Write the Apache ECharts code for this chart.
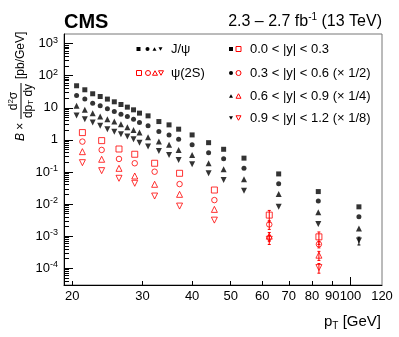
<!DOCTYPE html>
<html>
<head>
<meta charset="UTF-8">
<script src="https://cdn.jsdelivr.net/npm/echarts@6.0.0/dist/echarts.min.js"></script>
<style>html,body{margin:0;padding:0;background:#fff}#chart{width:399px;height:337px}</style>
</head>
<body>
<div id="chart"></div>
<script>
// J/psi: pT bin positions [GeV] and plotted cross sections (already scaled) per rapidity bin
var jpsiPt = [20.5, 21.5, 22.5, 23.5, 24.5, 25.5, 26.5, 27.5, 28.5, 29.5, 31, 33, 35, 37, 40, 44, 48, 54, 66, 83, 105];
var jpsiY0 = [48.7, 36.5, 27.4, 22.5, 18.7, 15.4, 12.7, 10.5, 8.66, 6.83, 5.62, 3.73, 2.94, 2.16, 1.43, 0.82, 0.51, 0.27, 0.087, 0.0245, 0.0082];
var jpsiY1 = [24.2, 18.7, 14.0, 11.5, 9.31, 7.66, 6.35, 5.35, 4.44, 3.48, 2.74, 1.82, 1.43, 1.05, 0.70, 0.40, 0.26, 0.13, 0.043, 0.0124, 0.0040];
var jpsiY2 = [11.5, 8.66, 6.83, 5.35, 4.44, 3.73, 3.10, 2.49, 2.05, 1.69, 1.21, 0.885, 0.70, 0.487, 0.34, 0.187, 0.121, 0.059, 0.0205, 0.0056, 0.00174];
var jpsiY3 = [5.74, 4.44, 3.48, 2.74, 2.16, 1.78, 1.51, 1.27, 1.05, 0.82, 0.62, 0.45, 0.34, 0.237, 0.174, 0.091, 0.056, 0.026, 0.0082, 0.00237, 0.00073];
var jpsiErr3 = [0, 0, 0, 0, 0, 0, 0, 0, 0, 0, 0, 0, 0, 0, 0, 0, 0, 0, 0, 0, 0.0002];

// psi(2S)
var psiPt = [21.2, 23.7, 26.2, 28.7, 32.2, 37.2, 45.5, 62.5, 83.3];
var psiY0 = [1.69, 0.95, 0.52, 0.357, 0.187, 0.091, 0.0274, 0.00453, 0.00095];
var psiY1 = [0.885, 0.487, 0.255, 0.187, 0.102, 0.042, 0.0133, 0.00232, 0.00056];
var psiY2 = [0.43, 0.249, 0.13, 0.075, 0.0413, 0.0201, 0.00683, 0.0010, 0.000255];
var psiY3 = [0.195, 0.11, 0.0636, 0.0444, 0.0178, 0.00866, 0.00316, 0.0008, 0.000105];
var psiErr0 = [0, 0, 0, 0, 0, 0, 0, 0.0018, 0.0004];
var psiErr1 = [0, 0, 0, 0, 0, 0, 0, 0.0007, 0.00013];
var psiErr2 = [0, 0, 0, 0, 0, 0, 0, 0.0003, 0.00008];
var psiErr3 = [0, 0, 0, 0, 0, 0, 0, 0.00025, 0.000035];

var xTickVals = [20, 30, 40, 50, 60, 70, 80, 90, 100, 120];
var yDecades = [-4, -3, -2, -1, 0, 1, 2, 3];
var rapLabels = ['0.0 < |y| < 0.3', '0.3 < |y| < 0.6 (\u00d7 1/2)', '0.6 < |y| < 0.9 (\u00d7 1/4)', '0.9 < |y| < 1.2 (\u00d7 1/8)'];
var symbols = ['rect', 'circle', 'triangle', 'downtri'];

var FONT = 'Liberation Sans, Arial, sans-serif';
var RED = '#ff0000';
var lg = Math.log10;

function pts(xs, ys) {
    return xs.map(function (x, i) { return [lg(x), lg(ys[i])]; });
}

function markSeries(xs, ys, k, open) {
    return {
        type: 'scatter',
        data: pts(xs, ys),
        symbol: k === 3 ? 'triangle' : symbols[k],
        symbolRotate: k === 3 ? 180 : 0,
        symbolSize: open ? (k === 1 ? 5.5 : 6) : (k >= 2 ? 6 : 5),
        z: 3,
        silent: true,
        itemStyle: open ? {color: 'rgba(0,0,0,0)', borderColor: RED, borderWidth: 1} : {color: '#000'}
    };
}

function errSeries(xs, ys, es, color) {
    var d = [];
    xs.forEach(function (x, i) {
        if (es[i]) d.push([lg(x), lg(ys[i] + es[i]), lg(ys[i] - es[i])]);
    });
    return {
        type: 'custom', data: d, z: 2, silent: true,
        encode: {x: 0, y: [1, 2]},
        renderItem: function (p, api) {
            var t = api.coord([api.value(0), api.value(1)]);
            var b = api.coord([api.value(0), api.value(2)]);
            var st = {stroke: color, lineWidth: 1};
            return {type: 'group', children: [
                {type: 'line', shape: {x1: t[0], y1: t[1], x2: b[0], y2: b[1]}, style: st},
                {type: 'line', shape: {x1: t[0] - 1.5, y1: t[1], x2: t[0] + 1.5, y2: t[1]}, style: st},
                {type: 'line', shape: {x1: b[0] - 1.5, y1: b[1], x2: b[0] + 1.5, y2: b[1]}, style: st}
            ]};
        }
    };
}

// legend marker shapes
function mark(k, x, y, s, filled, color) {
    var style = filled ? {fill: color} : {fill: 'none', stroke: color, lineWidth: 1};
    if (k === 0) return {type: 'rect', shape: {x: x - s / 2, y: y - s / 2, width: s, height: s}, style: style};
    if (k === 1) return {type: 'circle', shape: {cx: x, cy: y, r: s / 2}, style: style};
    var h = s * 0.9, dir = k === 2 ? -1 : 1;
    return {type: 'polygon', shape: {points: [[x, y + dir * h / 2], [x - s / 2, y - dir * h / 2], [x + s / 2, y - dir * h / 2]]}, style: style};
}

var minorY = [];
for (var n = -5; n <= 3; n++) {
    for (var m = 2; m <= 9; m++) minorY.push(n + lg(m));
}

var xMin = lg(19.06), xMax = lg(120), yMin = lg(3e-5), yMax = lg(2000);

var jY = [jpsiY0, jpsiY1, jpsiY2, jpsiY3];
var pY = [psiY0, psiY1, psiY2, psiY3];
var series = [];
jY.forEach(function (ys, k) { series.push(markSeries(jpsiPt, ys, k, false)); });
pY.forEach(function (ys, k) { series.push(markSeries(psiPt, ys, k, true)); });
series.push(errSeries(jpsiPt, jpsiY3, jpsiErr3, '#000'));
series.push(errSeries(psiPt, psiY0, psiErr0, RED));
series.push(errSeries(psiPt, psiY1, psiErr1, RED));
series.push(errSeries(psiPt, psiY2, psiErr2, RED));
series.push(errSeries(psiPt, psiY3, psiErr3, RED));

// legend graphics
var legendEls = [];
var rowY = [49, 73, 96, 118];
var lx = [138.5, 147.5, 154.5, 160.5];
for (var k = 0; k < 4; k++) {
    legendEls.push(mark(k, lx[k], rowY[0], 4, true, '#000'));
    legendEls.push(mark(k, lx[k] + 0.5, rowY[1], 5, false, RED));
    legendEls.push(mark(k, 231, rowY[k], 4, true, '#000'));
    legendEls.push(mark(k, 238.5, rowY[k], 5, false, RED));
    legendEls.push({type: 'text', x: 250, y: rowY[k], style: {text: rapLabels[k], font: '13px ' + FONT, fill: '#000', verticalAlign: 'middle'}});
}
legendEls.push({type: 'text', x: 171, y: rowY[0], style: {text: 'J/\u03c8', font: '13px ' + FONT, fill: '#000', verticalAlign: 'middle'}});
legendEls.push({type: 'text', x: 171, y: rowY[1], style: {text: '\u03c8(2S)', font: '13px ' + FONT, fill: '#000', verticalAlign: 'middle'}});

var chart = echarts.init(document.getElementById('chart'), null, {renderer: 'canvas'});
chart.setOption({
    animation: false,
    backgroundColor: '#fff',
    grid: {left: 64, right: 17, top: 34, bottom: 52, show: true, borderColor: '#777', borderWidth: 1, backgroundColor: 'transparent', outerBoundsMode: 'none'},
    xAxis: [{
        type: 'value', min: xMin, max: xMax,
        axisLine: {onZero: false, lineStyle: {color: '#000', width: 1}},
        axisTick: {inside: true, length: 4, customValues: xTickVals.slice(0, 8).map(lg), lineStyle: {color: '#000'}},
        axisLabel: {
            customValues: xTickVals.map(lg), margin: 5, color: '#000', fontSize: 13, fontFamily: FONT,
            formatter: function (v) { return String(Math.round(Math.pow(10, v))); }
        },
        splitLine: {show: false}
    }, {
        type: 'value', min: xMin, max: xMax, position: 'bottom',
        axisLine: {show: false, onZero: false},
        axisTick: {inside: true, length: 8, customValues: [2], lineStyle: {color: '#000'}},
        axisLabel: {show: false},
        splitLine: {show: false}
    }],
    yAxis: [{
        type: 'value', min: yMin, max: yMax,
        axisLine: {show: true, onZero: false, lineStyle: {color: '#000', width: 1}},
        axisTick: {inside: true, length: 9, customValues: yDecades, lineStyle: {color: '#000'}},
        axisLabel: {
            customValues: yDecades, margin: 6, color: '#000', fontFamily: FONT,
            formatter: function (v) {
                if (v === 0) return '{b|1}';
                if (v === 1) return '{b|10}';
                return '{b|10}{s|' + v + '}';
            },
            rich: {
                b: {fontSize: 13, fontFamily: FONT, color: '#000', lineHeight: 16},
                s: {fontSize: 9, fontFamily: FONT, color: '#000', lineHeight: 10, verticalAlign: 'top'}
            }
        },
        splitLine: {show: false}
    }, {
        type: 'value', min: yMin, max: yMax, position: 'left', offset: 0,
        axisLine: {show: false, onZero: false},
        axisTick: {inside: true, length: 5, customValues: minorY.filter(function (v) { return v > yMin && v < yMax; }), lineStyle: {color: '#000'}},
        axisLabel: {show: false},
        splitLine: {show: false}
    }],
    series: series,
    graphic: [
        {type: 'text', x: 64, y: 22, style: {text: 'CMS', font: 'bold 20px ' + FONT, fill: '#000', verticalAlign: 'middle'}},
        {type: 'text', x: 382, y: 22, style: {
            text: '{a|2.3 \u2013 2.7 fb}{s|-1}{a| (13 TeV)}', align: 'right', verticalAlign: 'middle',
            rich: {a: {fontSize: 16, fontFamily: FONT, color: '#000', lineHeight: 19}, s: {fontSize: 10, fontFamily: FONT, color: '#000', lineHeight: 11, verticalAlign: 'top'}}
        }},
        {type: 'text', x: 381, y: 322, style: {
            text: '{a|p}{s|T}{a| [GeV]}', align: 'right', verticalAlign: 'middle',
            rich: {a: {fontSize: 15, fontFamily: FONT, color: '#000', lineHeight: 18}, s: {fontSize: 10, fontFamily: FONT, color: '#000', lineHeight: 11, verticalAlign: 'bottom'}}
        }},
        {type: 'group', x: 21, y: 141, rotation: Math.PI / 2, children: [
            {type: 'text', x: 0, y: 0, style: {
                text: '{i|B} {a|\u00d7}', verticalAlign: 'middle',
                rich: {i: {fontSize: 12, fontStyle: 'italic', fontFamily: FONT, color: '#000'}, a: {fontSize: 12, fontFamily: FONT, color: '#000'}}
            }},
            {type: 'line', shape: {x1: 22, y1: 0, x2: 58, y2: 0}, style: {stroke: '#000', lineWidth: 1}},
            {type: 'text', x: 40, y: -1, style: {
                text: '{a|d}{s|2}{a|\u03c3}', align: 'center', verticalAlign: 'bottom',
                rich: {a: {fontSize: 12, fontFamily: FONT, color: '#000', lineHeight: 13}, s: {fontSize: 8, fontFamily: FONT, color: '#000', lineHeight: 8, verticalAlign: 'top'}}
            }},
            {type: 'text', x: 40, y: 1, style: {
                text: '{a|dp}{s|T}{a| dy}', align: 'center', verticalAlign: 'top',
                rich: {a: {fontSize: 12, fontFamily: FONT, color: '#000', lineHeight: 13}, s: {fontSize: 8, fontFamily: FONT, color: '#000', lineHeight: 8, verticalAlign: 'bottom'}}
            }},
            {type: 'text', x: 62, y: 0, style: {text: '[pb/GeV]', font: '12px ' + FONT, fill: '#000', verticalAlign: 'middle'}}
        ]}
    ].concat(legendEls)
});
</script>
</body>
</html>
